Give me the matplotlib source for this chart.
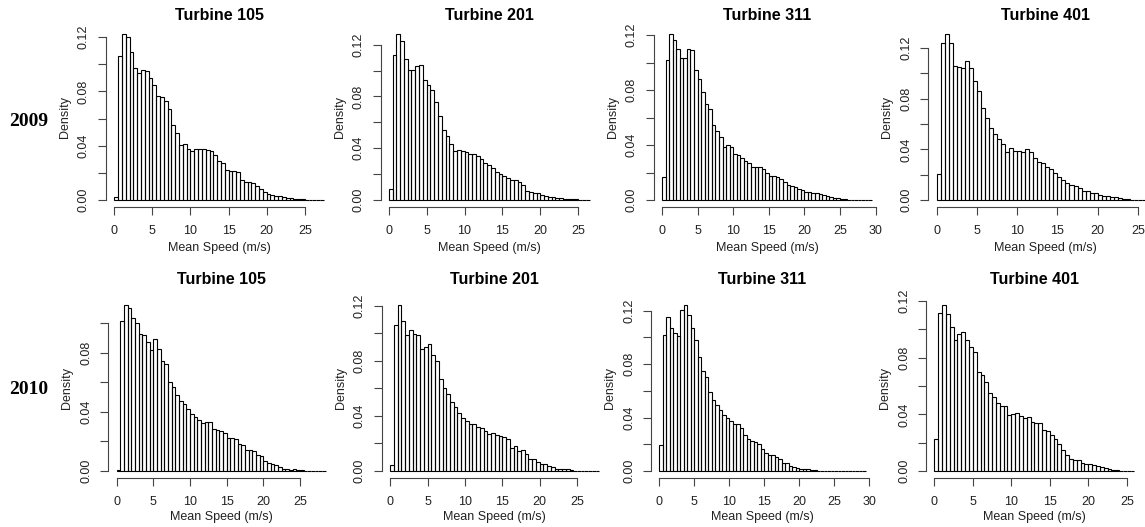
import numpy as np
import matplotlib
matplotlib.use("Agg")
import matplotlib.pyplot as plt
from matplotlib.ticker import FuncFormatter

plt.rcParams['font.family'] = ['Liberation Sans', 'DejaVu Sans']

# histogram densities, bins of 0.5 m/s starting at 0
bin_width = 0.5
years = ["2009", "2010"]
turbines = ["105", "201", "311", "401"]

t105_2009 = [0.002, 0.1057, 0.122, 0.1198, 0.109, 0.097, 0.0934, 0.096, 0.0947, 0.0898,
             0.0848, 0.0767, 0.076, 0.073, 0.0669, 0.0553, 0.0492, 0.0406, 0.0413, 0.0376,
             0.0361, 0.0376, 0.0376, 0.0376, 0.0369, 0.0364, 0.0332, 0.029, 0.027, 0.0221,
             0.0216, 0.0216, 0.0204, 0.0148, 0.0135, 0.013, 0.0123, 0.0103, 0.0081, 0.0061,
             0.0044, 0.0037, 0.003, 0.003, 0.002, 0.0015, 0.0012, 0.001, 0.0008, 0.0005,
             0.0003, 0, 0, 0, 0]
t201_2009 = [0.0083, 0.112, 0.128, 0.1228, 0.1093, 0.1005, 0.1005, 0.1036, 0.1044, 0.0925,
             0.0888, 0.085, 0.0756, 0.0648, 0.0544, 0.0497, 0.0435, 0.038, 0.0389, 0.038,
             0.037, 0.0357, 0.0355, 0.0337, 0.0316, 0.0285, 0.0267, 0.0246, 0.022, 0.0202,
             0.0186, 0.0168, 0.0155, 0.0155, 0.0137, 0.0117, 0.007, 0.0065, 0.0057, 0.0052,
             0.0039, 0.0031, 0.0023, 0.002, 0.0018, 0.0013, 0.001, 0.0008, 0.0006, 0.0005,
             0.0002, 0, 0]
t311_2009 = [0.017, 0.1018, 0.1207, 0.1164, 0.1103, 0.1035, 0.1035, 0.1098, 0.1091, 0.095,
             0.0885, 0.0788, 0.0698, 0.0662, 0.0545, 0.0504, 0.0456, 0.0388, 0.04, 0.0383,
             0.0332, 0.0327, 0.0303, 0.0286, 0.0271, 0.0242, 0.0238, 0.0242, 0.0223, 0.0199,
             0.0177, 0.0177, 0.017, 0.0153, 0.0133, 0.0109, 0.0104, 0.0097, 0.0078, 0.0073,
             0.0061, 0.0056, 0.0053, 0.0048, 0.0041, 0.0036, 0.0029, 0.0022, 0.0017, 0.0015,
             0.001, 0.0005, 0.0003, 0.0002, 0.0001, 0, 0, 0, 0.0004]
t401_2009 = [0.0205, 0.124, 0.1308, 0.1242, 0.1058, 0.105, 0.1043, 0.1098, 0.1043, 0.0943,
             0.0859, 0.073, 0.0651, 0.0572, 0.052, 0.048, 0.0446, 0.0381, 0.0407, 0.0389,
             0.0389, 0.0381, 0.0402, 0.0381, 0.0333, 0.0297, 0.0289, 0.0263, 0.0242, 0.0215,
             0.0184, 0.0158, 0.0131, 0.0118, 0.011, 0.0092, 0.0074, 0.0071, 0.0058, 0.0053,
             0.0042, 0.0034, 0.0032, 0.0026, 0.0021, 0.0016, 0.0011, 0.0008, 0.0003, 0.0002,
             0.0001, 0, 0, 0.0001]
t105_2010 = [0.001, 0.1014, 0.112, 0.11, 0.103, 0.1, 0.0923, 0.0917, 0.0872, 0.0815,
             0.089, 0.0827, 0.0743, 0.0721, 0.0601, 0.0568, 0.0516, 0.0471, 0.0455, 0.0421,
             0.0383, 0.0365, 0.0342, 0.0327, 0.0331, 0.0331, 0.0286, 0.0279, 0.027, 0.0259,
             0.0225, 0.0225, 0.0218, 0.0185, 0.0178, 0.0144, 0.014, 0.0135, 0.0106, 0.0099,
             0.0068, 0.0054, 0.005, 0.0038, 0.0027, 0.0016, 0.0012, 0.0008, 0.0012, 0.0006,
             0.0004, 0.0003, 0, 0, 0, 0, 0]
t201_2010 = [0.0041, 0.1057, 0.1203, 0.1086, 0.0989, 0.102, 0.0996, 0.0984, 0.0887, 0.0899,
             0.0921, 0.0843, 0.08, 0.0668, 0.06, 0.0559, 0.0503, 0.0467, 0.0418, 0.0382,
             0.0365, 0.034, 0.034, 0.0316, 0.0313, 0.0289, 0.0272, 0.0277, 0.026, 0.0255,
             0.0248, 0.0236, 0.017, 0.018, 0.0146, 0.0151, 0.0122, 0.009, 0.0085, 0.0066,
             0.0053, 0.0049, 0.0036, 0.0029, 0.0017, 0.0012, 0.0017, 0.0012, 0.0005, 0.0004,
             0.0002, 0, 0, 0, 0, 0]
t311_2010 = [0.0192, 0.1018, 0.115, 0.107, 0.103, 0.1008, 0.1207, 0.1242, 0.1168, 0.107,
             0.0983, 0.0856, 0.0752, 0.0702, 0.0595, 0.0535, 0.0498, 0.046, 0.0416, 0.0398,
             0.0373, 0.0354, 0.0349, 0.0324, 0.0271, 0.0241, 0.0222, 0.0217, 0.0204, 0.0162,
             0.0137, 0.0122, 0.0117, 0.0105, 0.0087, 0.0062, 0.006, 0.0037, 0.0032, 0.0025,
             0.0017, 0.0015, 0.0012, 0.001, 0.0007, 0.0004, 0.0002, 0.0002, 0.0001, 0.0001,
             0, 0, 0, 0, 0, 0, 0, 0.0002, 0.0003]
t401_2010 = [0.0227, 0.1118, 0.117, 0.1106, 0.1017, 0.0924, 0.0966, 0.0982, 0.0926, 0.0877,
             0.0842, 0.0696, 0.0677, 0.063, 0.0551, 0.052, 0.048, 0.0462, 0.0462, 0.0398,
             0.0403, 0.041, 0.0387, 0.0373, 0.038, 0.0345, 0.034, 0.0338, 0.0293, 0.0279,
             0.0256, 0.0223, 0.0188, 0.015, 0.0115, 0.0087, 0.0075, 0.0075, 0.0056, 0.0052,
             0.0047, 0.004, 0.0035, 0.0028, 0.0021, 0.0016, 0.0009, 0.0007, 0.0003, 0.0002,
             0.0001, 0.0001]

rows = {"2009": [t105_2009, t201_2009, t311_2009, t401_2009],
        "2010": [t105_2010, t201_2010, t311_2010, t401_2010]}

# layout in pixels (plot regions, like R's mfrow)
W, H = 1145, 527
row_top_bottom = {"2009": (27.7, 206.7), "2010": (298.5, 477.7)}
col_left_right = {"2009": [(105.9, 332.2), (380.7, 597.6), (653.6, 880.4), (928.3, 1162.5)],
                  "2010": [(108.3, 334.0), (381.9, 607.8), (651.0, 874.0), (926.3, 1142.5)]}
title_y = {"2009": 15, "2010": 280}
xlabel_y = {"2009": 248, "2010": 517}
year_y = {"2009": 122, "2010": 390}

fig = plt.figure(figsize=(W / 100, H / 100), dpi=100)
axis_col = '#444444'


def ylab(v, pos):
    k = int(round(v / 0.02))
    return "%.2f" % v if k % 2 == 0 else ""


for year in years:
    top, bottom = row_top_bottom[year]
    for j, turbine in enumerate(turbines):
        left, right = col_left_right[year][j]
        ax = fig.add_axes([left / W, 1 - bottom / H, (right - left) / W, (bottom - top) / H])
        heights = np.array(rows[year][j])
        edges = np.arange(len(heights)) * bin_width
        ax.bar(edges, heights, width=bin_width, align='edge', fill=False,
               edgecolor='black', linewidth=0.8)

        xmax = len(heights) * bin_width
        ymax = heights.max()
        ax.set_xlim(-0.04 * xmax, 1.04 * xmax)
        ax.set_ylim(-0.04 * ymax, 1.04 * ymax)
        xt = np.arange(0, 1.04 * xmax + 1e-9, 5)
        yt = np.arange(0, 1.04 * ymax + 1e-9, 0.02)
        ax.set_xticks(xt)
        ax.set_yticks(yt)
        ax.xaxis.set_major_formatter(FuncFormatter(lambda v, p: "%d" % round(v)))
        ax.yaxis.set_major_formatter(FuncFormatter(ylab))

        for s in ['top', 'right']:
            ax.spines[s].set_visible(False)
        ax.spines['bottom'].set_bounds(xt[0], xt[-1])
        ax.spines['left'].set_bounds(yt[0], yt[-1])
        for s in ['bottom', 'left']:
            ax.spines[s].set_color(axis_col)
            ax.spines[s].set_linewidth(0.8)
        ax.tick_params(length=5.5, width=0.8, color=axis_col, labelsize=9,
                       labelcolor='#222222')
        ax.tick_params(axis='x', pad=8)
        ax.tick_params(axis='y', pad=6, labelrotation=90)
        for lab in ax.get_yticklabels():
            lab.set_va('center')

        cx = (left + right) / 2
        fig.text(cx / W, 1 - title_y[year] / H, "Turbine " + turbine, ha='center',
                 va='center', fontsize=11.5, fontweight='bold')
        fig.text(cx / W, 1 - xlabel_y[year] / H, "Mean Speed (m/s)", ha='center',
                 va='center', fontsize=9, color='#222222')
        fig.text((left - 41) / W, 1 - (top + bottom) / 2 / H, "Density", ha='center',
                 va='center', rotation=90, fontsize=9, color='#222222')

    fig.text(29 / W, 1 - year_y[year] / H, year, ha='center', va='center',
             fontsize=14, fontweight='bold', family=['Liberation Serif', 'DejaVu Serif'])

fig.savefig("out.png", dpi=100)
